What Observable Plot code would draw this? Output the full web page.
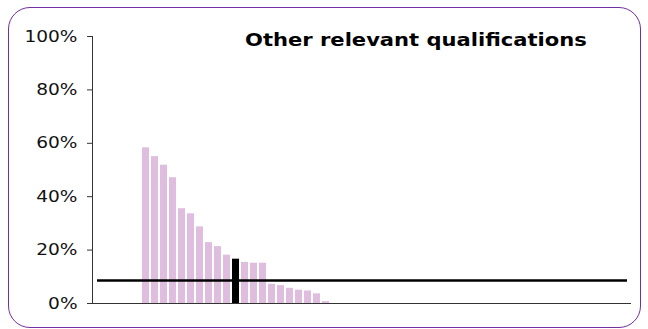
<!DOCTYPE html>
<html>
<head>
<meta charset="utf-8">
<script src="https://cdn.jsdelivr.net/npm/d3@7"></script>
<script src="https://cdn.jsdelivr.net/npm/@observablehq/plot@0.6"></script>
<style>
  html, body { margin: 0; padding: 0; background: #fff; }
  #wrap { position: relative; width: 648px; height: 329px; overflow: hidden; }
  #border { position: absolute; left: 8px; top: 7px; width: 633px; height: 321px;
            border: 1.5px solid #7030a0; border-radius: 22px; box-sizing: border-box; }
  #title { position: absolute; left: 245px; top: 29px; font-family: "DejaVu Sans", Verdana, sans-serif;
           font-weight: bold; font-size: 18px; color: #000; white-space: nowrap;
           transform: scaleX(1.17); transform-origin: left center; }
  #chart { position: absolute; left: 0; top: 0; }
</style>
</head>
<body>
<div id="wrap">
  <div id="chart"></div>
  <div id="border"></div>
  <div id="title">Other relevant qualifications</div>
</div>
<script>
// Category slots along the x axis (unlabelled in the original)
const categories = ["c01","c02","c03","c04","c05","c06","c07","c08","c09","c10",
  "c11","c12","c13","c14","c15","c16","c17","c18","c19","c20",
  "c21","c22","c23","c24","c25","c26","c27","c28","c29","c30",
  "c31","c32","c33","c34","c35","c36","c37","c38","c39","c40",
  "c41","c42","c43","c44","c45","c46","c47","c48","c49","c50",
  "c51","c52","c53","c54","c55","c56","c57","c58","c59"];
// Share (%) per category; null = no bar
const values = [null,null,null,null,null,
  58.3,55.0,51.8,47.1,35.5,33.6,28.7,22.8,21.3,18.1,
  16.6,15.4,15.1,15.1,7.2,6.7,5.7,5.0,4.7,3.6,
  0.7,null,null,null,null,null,null,null,null,null,
  null,null,null,null,null,null,null,null,null,null,
  null,null,null,null,null,null,null,null,null,null,
  null,null,null,null];
const highlighted = "c16";
const referenceValue = 8.6;
const yTicks = [0, 20, 40, 60, 80, 100];

const data = categories.map((c, i) => ({category: c, value: values[i]})).filter(d => d.value != null);

const chart = Plot.plot({
  width: 648,
  height: 329,
  marginLeft: 92,
  marginRight: 17,
  marginTop: 36,
  marginBottom: 26,
  style: {fontFamily: "'DejaVu Sans', Verdana, sans-serif", fontSize: "16px", color: "#111", background: "transparent"},
  x: {domain: categories, axis: null, padding: 0.2},
  y: {domain: [0, 100], axis: null},
  marks: [
    Plot.barY(data, {x: "category", y: "value",
      fill: d => d.category === highlighted ? "#000000" : "#dfbddf"}),
    Plot.ruleY([0], {stroke: "#333", strokeWidth: 1}),
    Plot.ruleY([referenceValue], {stroke: "#000", strokeWidth: 2.5, insetLeft: 5, insetRight: 4}),
    Plot.frame({anchor: "left", stroke: "#333"}),
    Plot.axisY({ticks: yTicks, tickFormat: d => d + "%", tickSize: 5, tickPadding: 10, label: null,
      stroke: "#333", fill: "#111", fontSize: 16})
  ]
});
// widen tick labels horizontally to match the reference's stretched glyphs
chart.querySelectorAll("g[aria-label='y-axis tick label'] text").forEach(t => {
  const tr = t.getAttribute("transform") || "";
  t.setAttribute("transform", tr + " scale(1.16,1)");
});
document.getElementById("chart").appendChild(chart);
</script>
</body>
</html>
